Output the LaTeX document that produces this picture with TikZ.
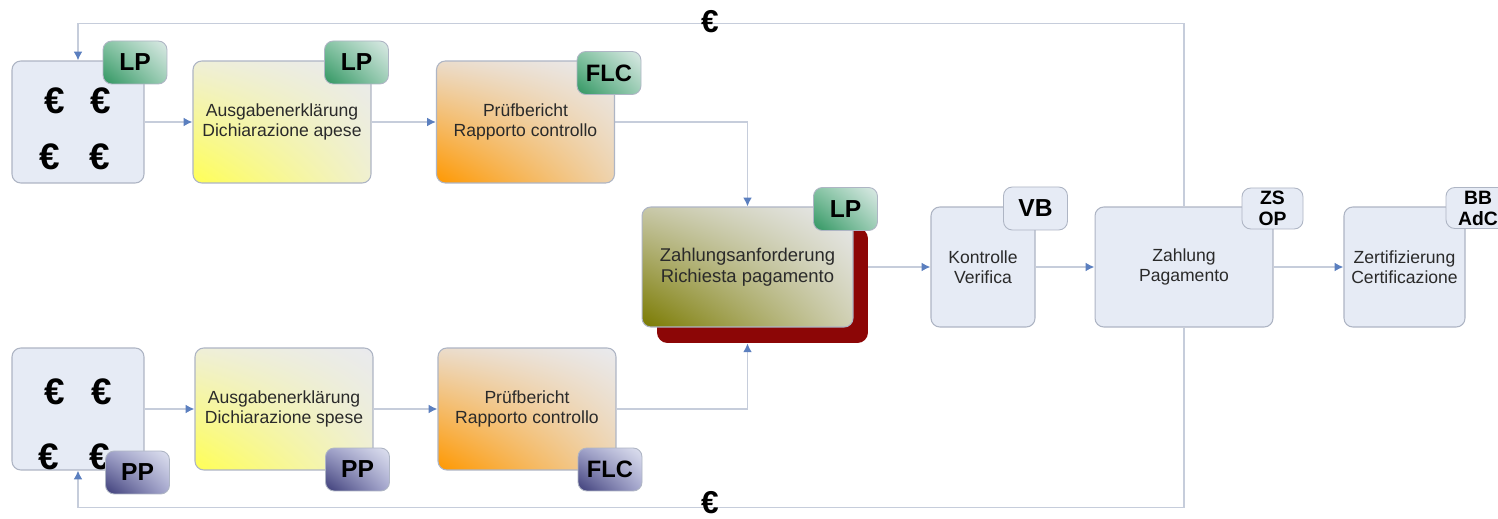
\documentclass[tikz,border=0pt]{standalone}
\usepackage{fontspec}
\setmainfont{Liberation Sans}
\usetikzlibrary{arrows.meta,backgrounds,shadings}
\definecolor{boxfill}{HTML}{E6EBF5}
\definecolor{boxline}{HTML}{AEB5C4}
\definecolor{connc}{HTML}{C6CDDB}
\definecolor{tipc}{HTML}{5B7FBF}
\definecolor{txt}{HTML}{2A2A2A}
\definecolor{lightgr}{HTML}{E9EAEE}
\definecolor{yel}{HTML}{FFFF55}
\definecolor{yelUL}{HTML}{EFEFD8}
\definecolor{yelLR}{HTML}{F0F0D0}
\definecolor{ora}{HTML}{FF9800}
\definecolor{oraUL}{HTML}{EBDCCB}
\definecolor{oraLR}{HTML}{EED3AE}
\definecolor{oli}{HTML}{7A7A00}
\definecolor{oliUL}{HTML}{C8C8A8}
\definecolor{oliLR}{HTML}{D0D0B4}
\definecolor{grn}{HTML}{2F9560}
\definecolor{grnUL}{HTML}{86C4A4}
\definecolor{grnLR}{HTML}{9CCDB5}
\definecolor{grnUR}{HTML}{DCEAE6}
\definecolor{pur}{HTML}{3C3C78}
\definecolor{purUL}{HTML}{9EA0C8}
\definecolor{purLR}{HTML}{A8AAD0}
\definecolor{purUR}{HTML}{DFE2F0}
\definecolor{darkredc}{HTML}{8C0606}
\tikzset{
  box/.style={draw=boxline, line width=0.6pt, rounded corners=5pt, inner sep=0pt,
    align=center, text=txt, font=\fontsize{10}{11.5}\selectfont},
  plainbox/.style={box, fill=boxfill},
  yellowbox/.style={box, shade, lower left=yel, upper left=yelUL, lower right=yelLR, upper right=lightgr},
  orangebox/.style={box, shade, lower left=ora, upper left=oraUL, lower right=oraLR, upper right=lightgr},
  olivebox/.style={box, shade, lower left=oli, upper left=oliUL, lower right=oliLR, upper right=lightgr},
  ebox/.style={minimum width=2.64cm, minimum height=2.44cm},
  abox/.style={minimum width=3.56cm, minimum height=2.44cm},
  badge/.style={draw=boxline, line width=0.5pt, rounded corners=5pt, inner sep=0pt,
    minimum width=1.28cm, minimum height=0.86cm, align=center, text=black,
    font=\fontsize{14}{14}\bfseries},
  greenbadge/.style={badge, shade, lower left=grn, upper left=grnUL, lower right=grnLR, upper right=grnUR},
  purplebadge/.style={badge, shade, lower left=pur, upper left=purUL, lower right=purLR, upper right=purUR},
  whitebadge/.style={badge, fill=boxfill},
  smallbadge/.style={whitebadge, font=\fontsize{11}{12}\bfseries},
  eur/.style={inner sep=0pt, text=black, font=\fontsize{21}{21}\bfseries},
  eurloop/.style={inner sep=0pt, text=black, font=\fontsize{18}{18}\bfseries},
  conn/.style={draw=connc, line width=1pt, -{Latex[length=5pt,width=5pt,color=tipc]}},
}
\begin{document}
\begin{tikzpicture}[x=0.02cm,y=-0.02cm]
\useasboundingbox (0,0) rectangle (1498,519);

% upper row
\node[plainbox, ebox] (E1) at (78,122) {};
\node[eur] (e1a) at (55,101) {€};
\node[eur] (e1b) at (101,101) {€};
\node[eur] (e1c) at (50,157) {€};
\node[eur] (e1d) at (100,157) {€};
\node[greenbadge] (bE1) at (135,62.5) {LP};

\node[yellowbox, abox] (A1) at (282,122) {Ausgabenerklärung\\Dichiarazione apese};
\node[greenbadge] (bA1) at (356.5,62.5) {LP};

\node[orangebox, abox] (P1) at (525.5,122) {Prüfbericht\\Rapporto controllo};
\node[greenbadge, font=\fontsize{13.5}{13.5}\bfseries] (bP1) at (609,73) {FLC};

% lower row
\node[plainbox, ebox] (E2) at (78,409) {};
\node[eur] (e2a) at (55,392) {€};
\node[eur] (e2b) at (102,392) {€};
\node[eur] (e2c) at (49,457) {€};
\node[eur] (e2d) at (100,457) {€};
\node[purplebadge] (bE2) at (137.5,472.5) {PP};

\node[yellowbox, abox] (A2) at (284,409) {Ausgabenerklärung\\Dichiarazione spese};
\node[purplebadge] (bA2) at (357.5,469.5) {PP};

\node[orangebox, abox] (P2) at (527,409) {Prüfbericht\\Rapporto controllo};
\node[purplebadge, font=\fontsize{13.5}{13.5}\bfseries] (bP2) at (610,469.5) {FLC};

% payment request
\node[fill=darkredc, rounded corners=6pt, inner sep=0pt, minimum width=4.22cm, minimum height=2.30cm] (Zs) at (762.5,285.5) {};
\node[olivebox, minimum width=4.22cm, minimum height=2.40cm, font=\fontsize{10.5}{12}\selectfont] (Z) at (747.5,267) {Zahlungsanforderung\\Richiesta pagamento};
\node[greenbadge] (bZ) at (845.5,209) {LP};

% right chain
\node[plainbox, minimum width=2.08cm, minimum height=2.40cm] (K) at (983,267) {Kontrolle\\Verifica};
\node[whitebadge] (bK) at (1035.5,208.5) {VB};

\node[plainbox, minimum width=3.56cm, minimum height=2.40cm] (Zh) at (1184,267) {Zahlung\\Pagamento};
\node[smallbadge, minimum width=1.22cm, minimum height=0.82cm] (bZh) at (1272.5,208.5) {ZS\\OP};

\node[plainbox, minimum width=2.42cm, minimum height=2.40cm] (Zt) at (1404.5,267) {Zertifizierung\\Certificazione};
\node[smallbadge, minimum width=1.28cm, minimum height=0.82cm] (bZt) at (1478,208) {BB\\AdC};

% euro labels on loops
\node[eurloop] (etop) at (710,22) {€};
\node[eurloop] (ebot) at (710,503) {€};

\coordinate (zin) at (Z.south |- Zs.south);

\begin{scope}[on background layer]
\fill[white] (0,0) rectangle (1498,519);
\draw[conn] (E1.east) -- (A1.west);
\draw[conn] (A1.east) -- (P1.west);
\draw[conn] (P1.east) -| (Z.north);
\draw[conn] (E2.east) -- (A2.west);
\draw[conn] (A2.east) -- (P2.west);
\draw[conn] (P2.east) -| (zin);
\draw[conn] (Z.east) -- (K.west);
\draw[conn] (K.east) -- (Zh.west);
\draw[conn] (Zh.east) -- (Zt.west);
\draw[conn] (Zh.north) -- ++(0,-183) -| (E1.north);
\draw[conn] (Zh.south) -- ++(0,180) -| (E2.south);
\end{scope}
\end{tikzpicture}
\end{document}
